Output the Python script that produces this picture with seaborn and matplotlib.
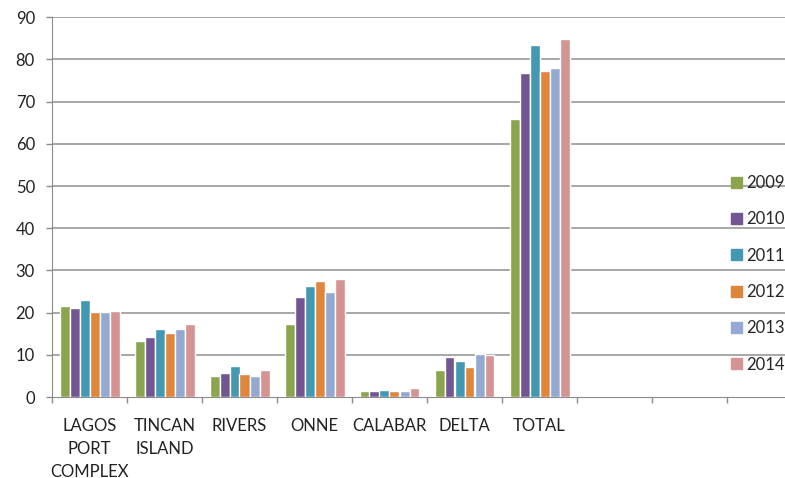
import numpy as np
import pandas as pd
import seaborn as sns
import matplotlib.pyplot as plt

# ports and yearly values
ports = ["LAGOS\nPORT\nCOMPLEX", "TINCAN\nISLAND", "RIVERS", "ONNE", "CALABAR", "DELTA", "TOTAL"]
years = ["2009", "2010", "2011", "2012", "2013", "2014"]
v2009 = [21.5, 13.3, 5.0, 17.2, 1.5, 6.5, 65.9]
v2010 = [21.0, 14.3, 5.7, 23.8, 1.5, 9.5, 76.8]
v2011 = [22.9, 16.1, 7.4, 26.4, 1.75, 8.6, 83.4]
v2012 = [20.1, 15.2, 5.5, 27.6, 1.4, 7.0, 77.3]
v2013 = [20.1, 16.1, 5.0, 24.8, 1.4, 10.3, 78.0]
v2014 = [20.5, 17.4, 6.3, 27.9, 2.2, 10.0, 84.8]
blank_slots = ["", " ", "  "]
yticks = np.arange(0, 91, 10)

colors = ["#8BA54E", "#735592", "#4399B1", "#E0853C", "#93A9D2", "#D49492"]

rows = []
for yr, vals in zip(years, [v2009, v2010, v2011, v2012, v2013, v2014]):
    for p, v in zip(ports, vals):
        rows.append({"Port": p, "Year": yr, "Value": v})
df = pd.DataFrame(rows)

sns.set_style("white", {"xtick.bottom": True, "ytick.left": True,
                        "axes.edgecolor": "#8c8c8c", "axes.linewidth": 1.1})
plt.rcParams['font.family'] = ['Lato', 'DejaVu Sans']

fig = plt.figure(figsize=(7.85, 4.78), dpi=100)
ax = fig.add_axes([52 / 785, 81 / 478, 750 / 785, 379.7 / 478])

sns.barplot(data=df, x="Port", y="Value", hue="Year", order=ports + blank_slots,
            hue_order=years, palette=colors, width=0.8, saturation=1,
            ax=ax, zorder=3, legend=False)

ax.set_xlim(-0.5, 9.5)
ax.set_ylim(0, 90)
ax.set_yticks(yticks)
# horizontal gridlines
ax.hlines(yticks[1:], -0.5, 9.5, colors="#a0a0a0", linewidth=1.3, zorder=2)

# labels at centres, tick marks at slot boundaries
ax.set_xticks(range(10))
ax.set_xticklabels(ports + blank_slots, fontsize=12, color="#222222", linespacing=1.55, va="top")
ax.set_xticks(np.arange(-0.5, 10, 1), minor=True)
ax.tick_params(axis="x", which="major", bottom=True, length=0, pad=15)
ax.tick_params(axis="x", which="minor", bottom=True, length=4.3, width=1, color="#8c8c8c", direction="out")
ax.tick_params(axis="y", which="major", left=True, length=4.3, width=1, color="#8c8c8c", direction="out",
               labelsize=12, labelcolor="#222222", pad=8)
ax.xaxis.label.set_visible(False)
ax.yaxis.label.set_visible(False)

for s in ["top", "right"]:
    ax.spines[s].set_visible(False)

handles = [plt.Rectangle((0, 0), 1, 1, color=c) for c in colors]
leg = fig.legend(handles, years, loc="upper left", bbox_to_anchor=(731 / 785, 1 - 175 / 478),
                 bbox_transform=fig.transFigure, frameon=False,
                 fontsize=12, handlelength=0.65, handleheight=0.65, handletextpad=0.25,
                 labelspacing=1.22, borderpad=0.0, borderaxespad=0)

fig.savefig("out.png", dpi=100)
